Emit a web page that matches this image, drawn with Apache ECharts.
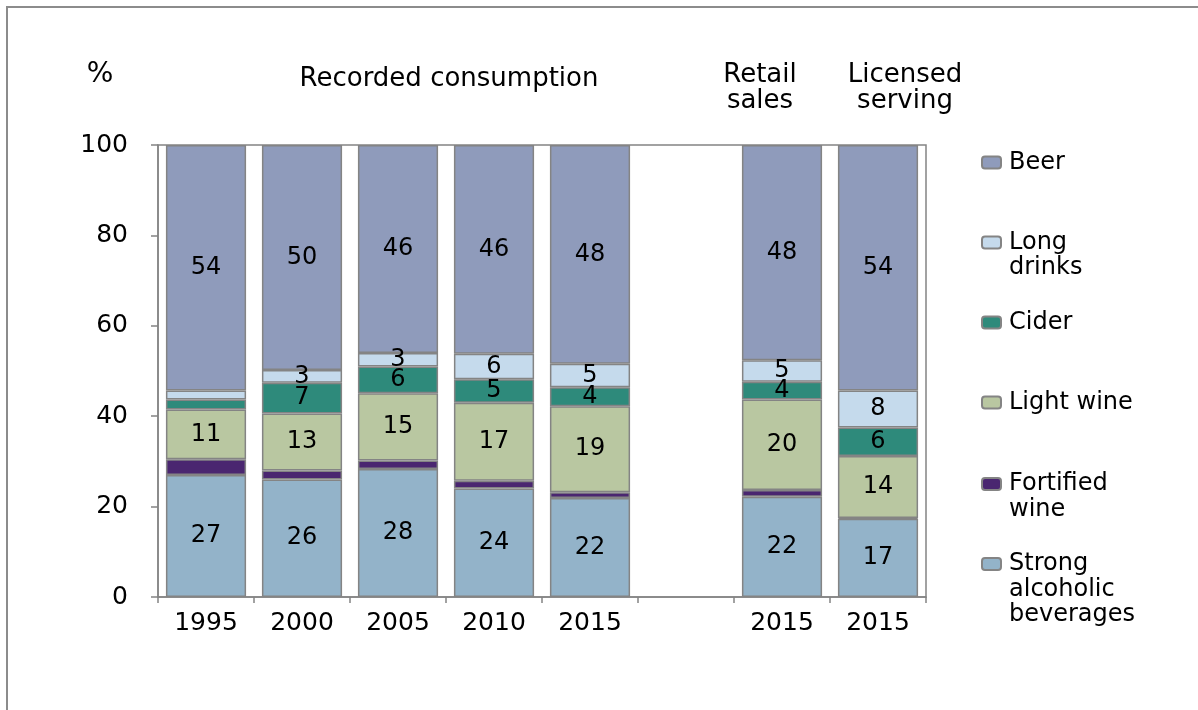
<!DOCTYPE html>
<html>
<head>
<meta charset="utf-8">
<script src="https://cdn.jsdelivr.net/npm/echarts@6/dist/echarts.min.js"></script>
<style>
html,body{margin:0;padding:0;background:#fff;}
#chart{width:1198px;height:710px;}
</style>
</head>
<body>
<div id="chart"></div>
<script>
var categories = ['1995','2000','2005','2010','2015','','2015','2015'];
var yTicks = [0, 20, 40, 60, 80, 100];
var strongAlcoholic = [27, 26, 28.3, 24, 21.9, '-', 22.2, 17.3];
var fortifiedWine   = [3.5, 2, 1.9, 1.7, 1.3, '-', 1.5, 0.2];
var lightWine       = [11, 12.6, 14.9, 17.3, 19, '-', 20, 13.7];
var cider           = [2.2, 6.8, 5.9, 5.2, 4.2, '-', 3.9, 6.3];
var longDrinks      = [2, 2.8, 3, 5.6, 5.2, '-', 4.8, 8.2];
var beer            = [54.3, 49.8, 46, 46.2, 48.4, '-', 47.6, 54.3];

var FONT = 'DejaVu Sans';
var BORDER = '#848484';

var seriesDefs = [
  {name:'Strong alcoholic beverages', legendText:'Strong\nalcoholic\nbeverages', data:strongAlcoholic, color:'#93b3c9', label:true,  legendCenter:564},
  {name:'Fortified wine', legendText:'Fortified\nwine', data:fortifiedWine, color:'#4a2670', label:false, legendCenter:484},
  {name:'Light wine', legendText:'Light wine', data:lightWine, color:'#b9c7a1', label:true, legendCenter:402.5},
  {name:'Cider', legendText:'Cider', data:cider, color:'#2e8a7b', label:true, legendCenter:322.5},
  {name:'Long drinks', legendText:'Long\ndrinks', data:longDrinks, color:'#c5daec', label:true, legendCenter:242.5},
  {name:'Beer', legendText:'Beer', data:beer, color:'#8f9bbb', label:true, legendCenter:162.5}
];

var LH = 25.5;
var legends = seriesDefs.map(function(s){
  var n = s.legendText.split('\n').length;
  var padded = new Array(n).join('\n') + s.legendText;
  return {
    data:[s.name],
    orient:'vertical',
    left:981,
    top: s.legendCenter - (2*n-1)*LH/2,
    padding:0,
    itemWidth:19,
    itemHeight:12,
    selectedMode:false,
    formatter:function(){ return padded; },
    textStyle:{fontFamily:FONT, fontSize:24, color:'#000', lineHeight:LH, padding:[0,0,0,3]}
  };
});

var series = seriesDefs.map(function(s){
  return {
    name:s.name,
    type:'bar',
    stack:'total',
    data:s.data,
    barCategoryGap:'16.5%',
    itemStyle:{color:s.color, borderColor:BORDER, borderWidth:1.5},
    label:{
      show:s.label,
      position:'inside',
      color:'#000',
      fontFamily:FONT,
      fontSize:24,
      formatter:function(p){ return (typeof p.value === 'number' && p.value >= 2.5) ? String(Math.round(p.value)) : ''; }
    }
  };
});

var chart = echarts.init(document.getElementById('chart'), null, {renderer:'canvas'});
chart.setOption({
  backgroundColor:'#fff',
  animation:false,
  grid:{left:158, right:272, top:145, bottom:113, show:true, borderColor:BORDER, borderWidth:1.5, backgroundColor:'transparent'},
  legend:legends,
  xAxis:{
    type:'category',
    data:categories,
    axisLine:{lineStyle:{color:BORDER, width:1.5}},
    axisTick:{show:true, length:6, lineStyle:{color:BORDER, width:1.5}},
    axisLabel:{color:'#000', fontFamily:FONT, fontSize:25, margin:14, interval:0}
  },
  yAxis:{
    type:'value',
    min:yTicks[0], max:yTicks[yTicks.length-1], interval:20,
    axisLine:{show:true, lineStyle:{color:BORDER, width:1.5}},
    axisTick:{show:true, length:7, lineStyle:{color:BORDER, width:1.5}},
    splitLine:{show:false},
    axisLabel:{color:'#000', fontFamily:FONT, fontSize:25, margin:30}
  },
  graphic:[
    {type:'rect', shape:{x:7, y:7, width:1300, height:800}, style:{fill:null, stroke:'#8c8c8c', lineWidth:2}, silent:true, z:-1},
    {type:'text', x:100, y:75, style:{text:'%', fontFamily:FONT, fontSize:28, fill:'#000', textAlign:'center', textVerticalAlign:'middle'}},
    {type:'text', x:449, y:79, style:{text:'Recorded consumption', fontFamily:FONT, fontSize:26, fill:'#000', textAlign:'center', textVerticalAlign:'middle'}},
    {type:'text', x:760, y:88, style:{text:'Retail\nsales', fontFamily:FONT, fontSize:26, lineHeight:26, fill:'#000', textAlign:'center', textVerticalAlign:'middle'}},
    {type:'text', x:905, y:88, style:{text:'Licensed\nserving', fontFamily:FONT, fontSize:26, lineHeight:26, fill:'#000', textAlign:'center', textVerticalAlign:'middle'}}
  ],
  series:series
});
</script>
</body>
</html>
